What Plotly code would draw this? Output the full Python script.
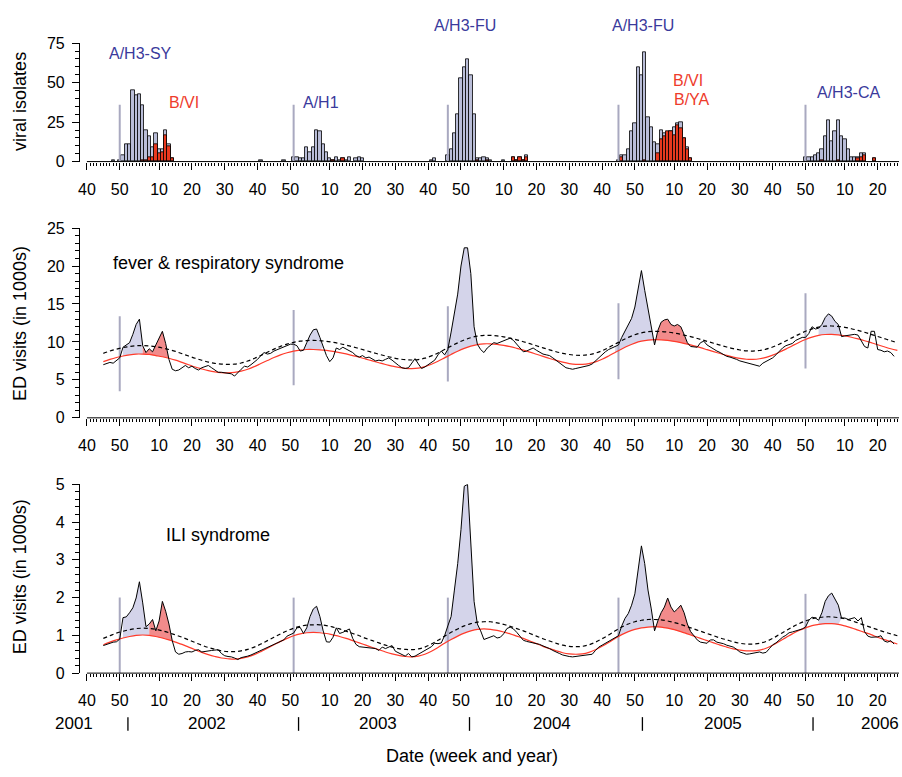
import plotly.graph_objects as go

W, H = 902, 777

# ---------------- x axis: continuous week index (0 = week 40 of 2001) ----------------
tick_weeks = [0, 10, 22, 32, 42, 52, 62, 74, 84, 94, 104, 114,
              127, 137, 147, 157, 167, 179, 189, 199, 209, 219, 231, 241]
tick_labels = ["40", "50", "10", "20", "30", "40", "50", "10", "20", "30", "40", "50",
               "10", "20", "30", "40", "50", "10", "20", "30", "40", "50", "10", "20"]
year_labels = ["2001", "2002", "2003", "2004", "2005", "2006"]
year_label_weeks = [-4.0, 36.7, 88.6, 141.8, 193.9, 241.7]
year_break_weeks = [12.5, 64.5, 116.6, 169.3, 221.3]

# ---------------- viral isolates (weekly counts) ----------------
iso_week = [8, 10, 11, 12, 13, 14, 15, 16, 17, 18, 19, 20, 21, 22, 23, 24, 25, 26,
            53, 60,
            63, 64, 65, 66, 67, 68, 69, 70, 71, 72, 73, 74, 75, 76, 77, 78, 79, 80, 82, 83, 84,
            105, 106,
            110, 111, 112, 113, 114, 115, 116, 117, 118, 119, 120, 121, 122, 123, 127,
            130, 131, 132, 133, 134,
            162, 163, 164, 165, 166, 167, 168, 169, 170, 171, 172, 173, 174, 175, 176, 177,
            178, 179, 180, 181, 182, 183, 184,
            219, 220, 221, 222, 223, 224, 225, 226, 227, 228, 229, 230, 231, 232, 233, 234,
            235, 236, 237, 240]
iso_all = [1, 1, 4, 11, 11, 45, 42, 43, 36, 20, 16, 9, 18, 8, 8, 20, 11, 2,
           1, 1,
           3, 3, 2, 2, 9, 6, 9, 20, 19, 11, 6, 2, 1, 3, 1, 2, 1, 3, 2, 3, 2,
           1, 2,
           4, 8, 18, 30, 53, 60, 65, 55, 30, 2, 2, 3, 2, 1, 1,
           3, 1, 3, 1, 4,
           1, 4, 4, 8, 19, 24, 60, 55, 69, 28, 22, 12, 11, 20, 18, 18,
           19, 22, 24, 25, 15, 9, 2,
           3, 3, 3, 4, 5, 8, 16, 26, 13, 19, 26, 16, 14, 8, 3, 3,
           3, 5, 5, 2]
iso_b = [0, 0, 0, 0, 0, 0, 0, 0, 1, 1, 3, 3, 11, 5, 6, 17, 10, 2,
         0, 0,
         0, 0, 0, 0, 0, 0, 0, 0, 0, 0, 0, 0, 1, 0, 0, 2, 0, 0, 0, 0, 0,
         0, 0,
         0, 0, 0, 0, 0, 0, 0, 0, 0, 1, 0, 0, 1, 0, 0,
         3, 1, 3, 1, 3,
         0, 3, 0, 0, 0, 0, 0, 0, 1, 0, 0, 0, 5, 14, 16, 19,
         19, 17, 23, 21, 15, 8, 2,
         0, 0, 0, 0, 0, 1, 0, 0, 0, 0, 1, 0, 0, 0, 0, 0,
         2, 3, 4, 2]

# season onset markers
onset_week = [10, 63, 110, 162, 219]
iso_line_hi = [36, 36, 36, 36, 36]
fever_line_lo = [3.5, 4.3, 4.8, 5.1, 6.5]
fever_line_hi = [13.4, 14.2, 14.7, 15.1, 16.4]
ili_line_lo = [0, 0, 0, 0, 0]
ili_line_hi = [2.0, 2.0, 2.0, 2.0, 2.1]

iso_texts = ["A/H3-SY", "B/VI", "A/H1", "A/H3-FU", "A/H3-FU", "B/VI", "B/YA", "A/H3-CA"]
iso_text_kind = ["A", "B", "A", "A", "A", "B", "B", "A"]

# ---------------- ED visits (in 1000s), weekly ----------------
ed_weeks = list(range(5, 247))
fever = [7.0, 7.1, 7.3, 7.2, 7.5, 7.9,
         9.3, 9.6, 9.9, 11.0, 12.3, 13.0, 9.5, 8.6, 9.1, 8.7, 9.6, 10.5, 11.4, 9.8, 7.7, 6.4,
         6.2, 6.3, 6.6, 6.9, 6.6, 6.8, 6.5, 6.3, 6.6, 6.7, 6.9, 6.6, 6.3, 6.0, 6.0, 5.9, 5.9, 5.8,
         5.5, 6.0, 6.4, 6.8, 6.7, 7.0, 7.3, 7.7, 8.2, 8.6, 8.4, 8.5, 8.8, 9.0, 9.2, 9.4, 9.6, 9.7,
         9.7, 9.5, 8.8, 8.9, 9.9, 10.9, 11.6, 11.7, 10.6, 9.3, 8.2, 7.4, 7.9, 9.2, 9.0, 9.3, 9.1, 8.9,
         8.6, 8.2, 8.0, 8.2, 7.9, 8.0, 7.7, 7.5, 7.6, 7.5, 7.7, 7.9, 7.6, 7.2, 6.9, 6.6, 6.5, 6.6,
         7.2, 7.8, 7.1, 6.5, 6.7, 7.0, 7.3, 7.6, 8.3, 8.8, 8.3, 9.0,
         11.3, 13.7, 16.3, 20.0, 22.4, 22.4, 19.0, 12.0, 9.7, 9.0,
         8.6, 9.2, 9.6, 9.9, 9.8, 10.0, 10.2, 10.3, 10.5, 10.2, 9.7, 9.3, 8.7, 8.8, 9.0, 9.2, 8.9,
         8.6, 8.4, 8.3, 8.2, 7.9, 7.6, 7.3, 6.9, 6.6, 6.5, 6.4, 6.5, 6.6, 6.7, 6.7, 6.9, 7.1, 7.5,
         7.9, 8.4, 8.7, 9.0, 9.2, 9.4,
         9.6, 10.6, 11.5, 12.3, 13.1, 14.6, 17.0, 19.4, 16.8, 14.3,
         11.6, 9.6, 11.5, 12.6, 12.9, 13.0, 12.3, 12.1, 12.3, 12.0,
         11.0, 9.9, 9.4, 9.3, 9.3, 9.9, 10.1, 9.6, 9.3, 9.1,
         8.8, 8.6, 8.3, 8.1, 8.0, 7.9, 7.7, 7.5, 7.4, 7.3,
         7.2, 7.0, 6.9, 6.8, 7.2, 7.4, 7.6, 7.9, 8.3, 8.8,
         9.2, 9.5, 9.6, 9.8, 10.2, 10.4, 10.6, 10.6, 11.1, 12.0,
         11.7, 11.8, 12.3, 13.2, 13.7, 13.4, 12.7, 12.3, 10.7, 10.8,
         10.9, 11.0, 11.0, 10.9, 10.2, 9.4, 9.2, 11.4, 11.4, 9.0,
         8.9, 8.7, 8.8, 8.6, 8.1]
ili = [0.73, 0.76, 0.80, 0.82, 0.83, 0.90,
       1.47, 1.49, 1.60, 1.73, 1.99, 2.42, 1.86, 1.23, 1.30, 1.42,
       1.12, 1.38, 1.90, 1.64, 1.30, 0.86, 0.56, 0.50, 0.52, 0.56,
       0.57, 0.56, 0.60, 0.62, 0.56, 0.58, 0.60, 0.60, 0.61, 0.62,
       0.52, 0.46, 0.44, 0.43, 0.40, 0.36, 0.41, 0.42, 0.45, 0.48,
       0.52, 0.56, 0.60, 0.64, 0.69, 0.73, 0.78, 0.80, 0.84, 0.88,
       0.98, 1.02, 1.06, 1.20, 1.21, 1.05, 1.20, 1.50, 1.70, 1.77,
       1.50, 1.12, 0.83, 0.82, 0.95, 1.20, 1.05, 1.08, 1.12, 1.17,
       0.92, 0.76, 0.70, 0.69, 0.69, 0.66, 0.65, 0.65, 0.60, 0.69,
       0.65, 0.68, 0.73, 0.58, 0.54, 0.50, 0.45, 0.52, 0.43, 0.45,
       0.50, 0.56, 0.60, 0.64, 0.70, 0.79, 0.78, 0.80, 0.99, 1.25,
       1.50, 2.20, 2.90, 3.80, 4.95, 5.00, 3.40, 1.90, 1.30, 1.12,
       0.89, 0.92, 0.96, 0.99, 0.93, 0.95, 1.04, 1.18, 1.22, 1.17,
       1.08, 0.98, 0.87, 0.84, 0.82, 0.80, 0.79, 0.76, 0.72, 0.69,
       0.65, 0.60, 0.57, 0.52, 0.48, 0.45, 0.44, 0.43, 0.44, 0.45,
       0.45, 0.47, 0.48, 0.50, 0.60, 0.69, 0.74, 0.79, 0.85, 0.91,
       0.95, 0.99, 1.25, 1.45, 1.58, 1.80, 2.10, 2.80, 3.37, 2.90,
       2.20, 1.70, 1.12, 1.38, 1.60, 1.75, 1.99, 1.75, 1.62, 1.70,
       1.80, 1.60, 1.30, 1.10, 0.99, 0.88, 0.82, 0.80, 0.79, 0.88,
       0.88, 0.82, 0.80, 0.78, 0.74, 0.71, 0.69, 0.63, 0.56, 0.53,
       0.50, 0.51, 0.52, 0.54, 0.56, 0.53, 0.55, 0.65, 0.75, 0.80,
       0.88, 0.95, 1.00, 1.07, 1.09, 1.11, 1.13, 1.17, 1.22, 1.40,
       1.48, 1.46, 1.40, 1.60, 1.90, 2.05, 2.12, 1.95, 1.80, 1.45,
       1.46, 1.42, 1.44, 1.47, 1.38, 1.47, 1.10, 0.98, 0.95, 0.95,
       0.96, 0.99, 0.85, 0.82, 0.86, 0.77]

# seasonal baseline (red) and epidemic threshold (dashed), every 2 weeks
base_weeks = list(range(5, 248, 2))
fever_base = [7.40, 7.70, 7.95, 8.15, 8.30, 8.40, 8.40, 8.35, 8.20, 8.05,
              7.85, 7.60, 7.30, 7.00, 6.70, 6.45, 6.22, 6.05, 5.96, 5.93,
              5.98, 6.15, 6.40, 6.75, 7.15, 7.55, 7.95, 8.30, 8.58, 8.80,
              8.93, 9.00, 9.00, 8.96, 8.88, 8.76, 8.60, 8.42, 8.20, 7.98,
              7.74, 7.50, 7.26, 7.03, 6.82, 6.64, 6.52, 6.48, 6.55, 6.75,
              7.05, 7.45, 7.90, 8.35, 8.78, 9.15, 9.45, 9.65, 9.75, 9.75,
              9.68, 9.55, 9.38, 9.16, 8.92, 8.66, 8.38, 8.10, 7.82, 7.56,
              7.33, 7.15, 7.05, 7.05, 7.15, 7.38, 7.72, 8.15, 8.62, 9.08,
              9.50, 9.85, 10.10, 10.25, 10.30, 10.28, 10.20, 10.07, 9.90, 9.70,
              9.48, 9.24, 8.98, 8.72, 8.47, 8.22, 8.00, 7.83, 7.72, 7.70,
              7.78, 7.97, 8.26, 8.63, 9.05, 9.50, 9.93, 10.32, 10.63, 10.86,
              10.98, 11.00, 10.93, 10.80, 10.62, 10.40, 10.16, 9.90, 9.63, 9.36,
              9.10, 8.88]
fever_thr = [8.50, 8.80, 9.05, 9.25, 9.40, 9.50, 9.52, 9.48, 9.36, 9.20,
             9.00, 8.75, 8.45, 8.15, 7.85, 7.58, 7.35, 7.18, 7.08, 7.04,
             7.08, 7.22, 7.48, 7.82, 8.22, 8.64, 9.05, 9.42, 9.72, 9.95,
             10.10, 10.18, 10.20, 10.16, 10.08, 9.95, 9.78, 9.58, 9.36, 9.12,
             8.87, 8.62, 8.38, 8.15, 7.94, 7.77, 7.66, 7.62, 7.68, 7.86,
             8.16, 8.55, 9.00, 9.45, 9.88, 10.26, 10.56, 10.76, 10.86, 10.87,
             10.80, 10.67, 10.50, 10.28, 10.03, 9.77, 9.50, 9.22, 8.96, 8.71,
             8.50, 8.34, 8.25, 8.24, 8.32, 8.52, 8.84, 9.26, 9.72, 10.18,
             10.60, 10.95, 11.20, 11.35, 11.40, 11.38, 11.30, 11.17, 11.00, 10.80,
             10.58, 10.34, 10.08, 9.82, 9.57, 9.33, 9.11, 8.94, 8.83, 8.80,
             8.87, 9.05, 9.33, 9.70, 10.12, 10.57, 11.00, 11.40, 11.72, 11.96,
             12.08, 12.10, 12.04, 11.92, 11.74, 11.52, 11.27, 11.00, 10.72, 10.44,
             10.16, 9.90]
ili_base = [0.75, 0.82, 0.88, 0.93, 0.97, 1.00, 1.01, 1.00, 0.97, 0.93,
            0.88, 0.82, 0.76, 0.69, 0.62, 0.55, 0.49, 0.44, 0.40, 0.38,
            0.37, 0.39, 0.43, 0.49, 0.57, 0.66, 0.75, 0.84, 0.92, 0.99,
            1.04, 1.07, 1.08, 1.07, 1.05, 1.01, 0.97, 0.92, 0.86, 0.80,
            0.74, 0.68, 0.62, 0.56, 0.51, 0.47, 0.44, 0.43, 0.45, 0.50,
            0.58, 0.68, 0.79, 0.89, 0.98, 1.06, 1.12, 1.16, 1.17, 1.16,
            1.13, 1.09, 1.04, 0.98, 0.92, 0.85, 0.78, 0.71, 0.65, 0.59,
            0.54, 0.51, 0.50, 0.51, 0.55, 0.62, 0.71, 0.81, 0.92, 1.02,
            1.10, 1.16, 1.20, 1.22, 1.23, 1.22, 1.19, 1.15, 1.10, 1.04,
            0.98, 0.92, 0.86, 0.80, 0.74, 0.69, 0.64, 0.61, 0.59, 0.59,
            0.61, 0.66, 0.74, 0.84, 0.94, 1.04, 1.13, 1.20, 1.26, 1.29,
            1.31, 1.31, 1.29, 1.25, 1.20, 1.14, 1.08, 1.02, 0.95, 0.89,
            0.83, 0.77]
ili_thr = [0.92, 0.99, 1.06, 1.11, 1.15, 1.18, 1.19, 1.18, 1.16, 1.12,
           1.07, 1.01, 0.95, 0.88, 0.81, 0.74, 0.68, 0.63, 0.59, 0.57,
           0.57, 0.59, 0.63, 0.69, 0.77, 0.86, 0.95, 1.04, 1.12, 1.19,
           1.24, 1.27, 1.28, 1.28, 1.26, 1.22, 1.17, 1.11, 1.05, 0.99,
           0.92, 0.86, 0.80, 0.74, 0.69, 0.65, 0.63, 0.62, 0.64, 0.69,
           0.77, 0.87, 0.98, 1.08, 1.17, 1.25, 1.31, 1.35, 1.36, 1.36,
           1.33, 1.29, 1.24, 1.18, 1.12, 1.05, 0.98, 0.91, 0.85, 0.79,
           0.74, 0.71, 0.70, 0.71, 0.75, 0.82, 0.91, 1.01, 1.12, 1.22,
           1.30, 1.36, 1.40, 1.42, 1.42, 1.41, 1.38, 1.34, 1.29, 1.23,
           1.17, 1.11, 1.05, 0.99, 0.93, 0.88, 0.83, 0.79, 0.77, 0.77,
           0.79, 0.84, 0.92, 1.02, 1.12, 1.22, 1.31, 1.38, 1.44, 1.47,
           1.49, 1.49, 1.47, 1.44, 1.39, 1.33, 1.27, 1.21, 1.15, 1.09,
           1.04, 0.99]

# shaded excess periods: (start week, end week, virus type)
fever_fills = [(11, 17, "A"), (17, 25, "B"), (66, 72, "A"), (109, 119, "A"),
               (161, 173, "A"), (173, 184, "B"), (223, 230, "A")]
ili_fills = [(11, 19, "A"), (19, 26, "B"), (66, 72, "A"), (109, 120, "A"),
             (161, 173, "A"), (173, 185, "B"), (223, 230, "A")]

# ---------------- styling ----------------
FONT = "Liberation Sans, Arial, sans-serif"
BAR_A = "#b9bdd8"
BAR_B = "#e8381f"
FILL_A = "#d4d4ea"
FILL_B = "#f28b8b"
RED_LINE = "#ff3b2b"
ONSET = "#a9a9c0"
TXT_A = "#3a3a9c"
TXT_B = "#ee3b2b"

XR = [-2.44, 247.5]
XDOM = [78 / W, 899 / W]


def ydom(top_px, bot_px):
    return [1 - bot_px / H, 1 - top_px / H]


def xpaper(t):
    return XDOM[0] + (t - XR[0]) / (XR[1] - XR[0]) * (XDOM[1] - XDOM[0])


fig = go.Figure()

# --- top panel: isolates ---
fig.add_trace(go.Bar(x=iso_week, y=iso_all, width=1, marker=dict(color=BAR_A, line=dict(color="black", width=0.8)),
                     xaxis="x", yaxis="y", hoverinfo="skip"))
bw = [w for w, b in zip(iso_week, iso_b) if b > 0]
bv = [b for b in iso_b if b > 0]
fig.add_trace(go.Bar(x=bw, y=bv, width=1, marker=dict(color=BAR_B, line=dict(color="black", width=0.8)),
                     xaxis="x", yaxis="y", hoverinfo="skip"))


def seg_xy(xs, lo, hi):
    X, Y = [], []
    for x, a, b in zip(xs, lo, hi):
        X += [x, x, None]
        Y += [a, b, None]
    return X, Y


X, Y = seg_xy(onset_week, [0] * 5, iso_line_hi)
fig.add_trace(go.Scatter(x=X, y=Y, mode="lines", line=dict(color=ONSET, width=2), xaxis="x", yaxis="y", hoverinfo="skip"))


def add_ed_panel(vals, base, thr, fills, lo, hi, xa, ya):
    for a, b, kind in fills:
        px = [w for w in ed_weeks if a <= w <= b]
        py = [v for w, v in zip(ed_weeks, vals) if a <= w <= b]
        qx = [w for w in base_weeks if a <= w <= b]
        qy = [v for w, v in zip(base_weeks, base) if a <= w <= b]
        fig.add_trace(go.Scatter(x=px + qx[::-1], y=py + qy[::-1], mode="lines", fill="toself",
                                 fillcolor=FILL_A if kind == "A" else FILL_B, line=dict(width=0),
                                 xaxis=xa, yaxis=ya, hoverinfo="skip"))
    X, Y = seg_xy(onset_week, lo, hi)
    fig.add_trace(go.Scatter(x=X, y=Y, mode="lines", line=dict(color=ONSET, width=2),
                             xaxis=xa, yaxis=ya, hoverinfo="skip"))
    fig.add_trace(go.Scatter(x=base_weeks, y=base, mode="lines", line=dict(color=RED_LINE, width=1.2, shape="spline"),
                             xaxis=xa, yaxis=ya, hoverinfo="skip"))
    fig.add_trace(go.Scatter(x=base_weeks, y=thr, mode="lines",
                             line=dict(color="black", width=1.2, dash="4px,3px", shape="spline"),
                             xaxis=xa, yaxis=ya, hoverinfo="skip"))
    fig.add_trace(go.Scatter(x=ed_weeks, y=vals, mode="lines", line=dict(color="black", width=1),
                             xaxis=xa, yaxis=ya, hoverinfo="skip"))


add_ed_panel(fever, fever_base, fever_thr, fever_fills, fever_line_lo, fever_line_hi, "x2", "y2")
add_ed_panel(ili, ili_base, ili_thr, ili_fills, ili_line_lo, ili_line_hi, "x3", "y3")

# ---------------- axes ----------------
xcommon = dict(range=XR, domain=XDOM, tickmode="array", tickvals=tick_weeks, ticktext=tick_labels,
               ticks="outside", ticklen=7, tickwidth=1, tickcolor="black", showline=False,
               showgrid=False, zeroline=False, tickfont=dict(size=16, family=FONT, color="black"),
               ticklabelstandoff=6,
               minor=dict(tickmode="array", tickvals=list(range(0, 248)), ticks="outside",
                          ticklen=3, tickwidth=1, tickcolor="black"))
ycommon = dict(showline=True, linecolor="black", linewidth=1, ticks="outside", ticklen=7, tickwidth=1,
               tickcolor="black", showgrid=False, zeroline=False, ticklabelstandoff=4,
               tickfont=dict(size=16, family=FONT, color="black"))

fig.update_layout(
    xaxis=dict(anchor="y", **xcommon),
    xaxis2=dict(anchor="y2", **xcommon),
    xaxis3=dict(anchor="y3", **xcommon),
    yaxis=dict(anchor="free", position=XDOM[0], domain=ydom(36, 157), range=[0, 75], tickvals=[0, 25, 50, 75],
               minor=dict(dtick=5, ticks="outside", ticklen=4, tickcolor="black"), **ycommon),
    yaxis2=dict(anchor="free", position=XDOM[0], domain=ydom(225, 419), range=[0, 25], tickvals=[0, 5, 10, 15, 20, 25],
                minor=dict(dtick=1, ticks="outside", ticklen=4, tickcolor="black"), **ycommon),
    yaxis3=dict(anchor="free", position=XDOM[0], domain=ydom(487, 680), range=[0, 5], tickvals=[0, 1, 2, 3, 4, 5],
                minor=dict(dtick=0.2, ticks="outside", ticklen=4, tickcolor="black"), **ycommon),
)

shapes = []
for xa in ["x", "x2", "x3"]:
    ya = {"x": "y", "x2": "y2", "x3": "y3"}[xa]
    shapes.append(dict(type="line", xref=xa, yref=ya + " domain", x0=0, x1=XR[1], y0=0, y1=0,
                       line=dict(color="black", width=1)))
for t in year_break_weeks:
    shapes.append(dict(type="line", xref="x3", yref="paper", x0=t, x1=t,
                       y0=1 - 739 / H, y1=1 - 725 / H, line=dict(color="black", width=1.3)))

ann = []
# isolate labels
iso_text_px = [(140, 47), (183, 97), (320, 97), (465, 18), (643, 18), (688, 74), (692, 94), (848, 86)]
for txt, kind, (px, py) in zip(iso_texts, iso_text_kind, iso_text_px):
    ann.append(dict(text=txt, x=px / W, y=1 - py / H, xref="paper", yref="paper", showarrow=False,
                    font=dict(size=16, family=FONT, color=TXT_A if kind == "A" else TXT_B),
                    xanchor="center", yanchor="middle"))
# panel titles
ann.append(dict(text="fever & respiratory syndrome", x=228 / W, y=1 - 261 / H, xref="paper", yref="paper",
                showarrow=False, font=dict(size=18, family=FONT, color="black"), xanchor="center", yanchor="middle"))
ann.append(dict(text="ILI syndrome", x=217 / W, y=1 - 539 / H, xref="paper", yref="paper",
                showarrow=False, font=dict(size=18, family=FONT, color="black"), xanchor="center", yanchor="middle"))
# y titles
for txt, py in [("viral isolates", 95), ("ED visits (in 1000s)", 322), ("ED visits (in 1000s)", 581)]:
    ann.append(dict(text=txt, x=19 / W, y=1 - py / H, xref="paper", yref="paper", textangle=-90,
                    showarrow=False, font=dict(size=18, family=FONT, color="black"),
                    xanchor="center", yanchor="middle"))
# year labels
for txt, t in zip(year_labels, year_label_weeks):
    ann.append(dict(text=txt, x=xpaper(t), y=1 - 732 / H, xref="paper", yref="paper", showarrow=False,
                    font=dict(size=17, family=FONT, color="black"), xanchor="center", yanchor="middle"))
ann.append(dict(text="Date (week and year)", x=472 / W, y=1 - 765 / H, xref="paper", yref="paper",
                showarrow=False, font=dict(size=18, family=FONT, color="black"), xanchor="center", yanchor="middle"))

fig.update_layout(
    width=W, height=H, margin=dict(l=0, r=0, t=0, b=0),
    paper_bgcolor="white", plot_bgcolor="white", showlegend=False,
    barmode="overlay", bargap=0,
    font=dict(family=FONT, color="black"),
    shapes=shapes, annotations=ann,
)

fig.write_html("out.html")
